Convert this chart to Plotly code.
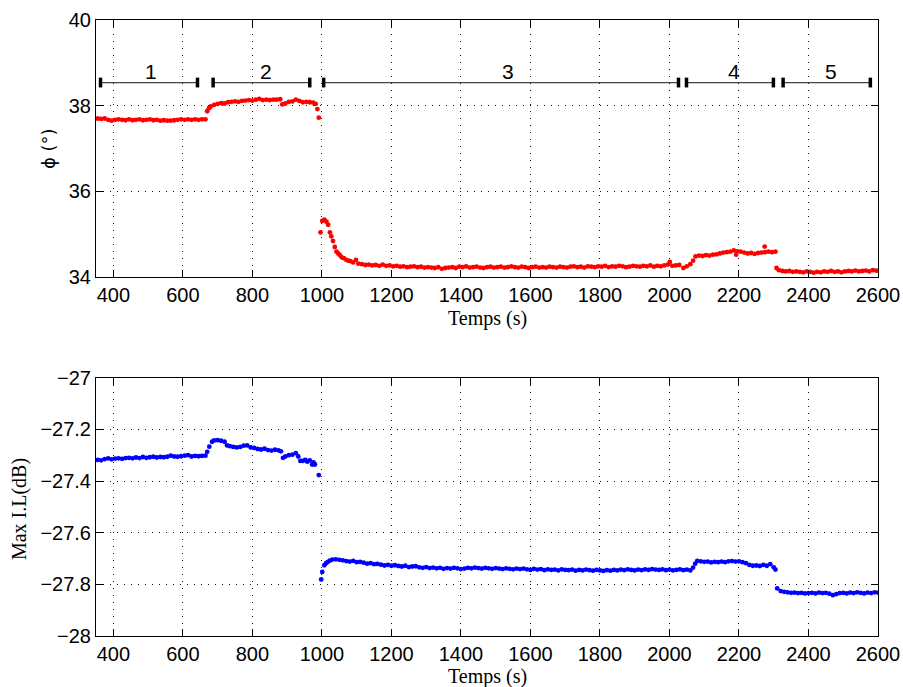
import plotly.graph_objects as go

# ---------------- data: phase (top panel) ----------------
PHI_T_1 = list(range(355, 666, 10))
PHI_1 = [37.70, 37.69, 37.70, 37.67, 37.65, 37.67, 37.68, 37.67, 37.66, 37.68,
         37.66, 37.67, 37.68, 37.66, 37.67, 37.68, 37.66, 37.67, 37.65, 37.66,
         37.65, 37.65, 37.66, 37.67, 37.68, 37.67, 37.68, 37.67, 37.68, 37.67,
         37.68, 37.68]

PHI_T_2 = [670, 675, 680, 690, 700, 710, 720, 730, 740, 750, 760, 770, 780, 790,
           800, 810, 820, 830, 840, 850, 860, 870, 880, 886, 895, 905, 915, 925,
           935, 945, 955, 965, 975, 982, 987, 991]
PHI_2 = [37.87, 37.94, 37.98, 38.02, 38.04, 38.06, 38.05, 38.08, 38.09, 38.10,
         38.09, 38.11, 38.12, 38.13, 38.12, 38.14, 38.16, 38.13, 38.14, 38.13,
         38.14, 38.14, 38.15, 38.03, 38.05, 38.09, 38.10, 38.14, 38.11, 38.08,
         38.09, 38.08, 38.07, 38.04, 37.92, 37.72]

PHI_T_3 = ([996, 1001, 1007, 1013, 1018, 1023, 1027, 1032, 1037, 1042, 1047, 1052,
            1057, 1063, 1070, 1076, 1082, 1090, 1098]
           + list(range(1105, 2000, 10))
           + [2001, 2008, 2018, 2028, 2040, 2050, 2060, 2068])
PHI_3 = [35.04, 35.31, 35.34, 35.29, 35.22, 35.04, 34.95, 34.84, 34.70, 34.59,
         34.55, 34.51, 34.46, 34.44, 34.40, 34.38, 34.37, 34.34, 34.40,
         34.31, 34.30, 34.28, 34.29, 34.27, 34.28, 34.26, 34.29, 34.26, 34.27,
         34.25, 34.26, 34.24, 34.25, 34.23, 34.24, 34.25, 34.23, 34.24, 34.22,
         34.23, 34.22, 34.21, 34.23, 34.19, 34.21, 34.22, 34.23, 34.21, 34.24,
         34.23, 34.25, 34.22, 34.23, 34.24, 34.22, 34.21, 34.23, 34.24, 34.22,
         34.23, 34.24, 34.22, 34.23, 34.25, 34.23, 34.22, 34.24, 34.23, 34.21,
         34.23, 34.24, 34.22, 34.23, 34.22, 34.24, 34.23, 34.22, 34.24, 34.23,
         34.22, 34.24, 34.25, 34.23, 34.24, 34.22, 34.25, 34.24, 34.23, 34.25,
         34.24, 34.26, 34.23, 34.25, 34.24, 34.26, 34.25, 34.23, 34.24, 34.26,
         34.25, 34.24, 34.26, 34.25, 34.27, 34.24, 34.26, 34.25, 34.27, 34.29,
         34.35, 34.26, 34.27, 34.28, 34.21, 34.25, 34.30, 34.38]

PHI_T_4 = [2075, 2085, 2095, 2105, 2115, 2125, 2135, 2145, 2155, 2165, 2175, 2185,
           2192, 2195, 2205, 2215, 2225, 2235, 2245, 2255, 2265, 2274, 2275, 2285,
           2295, 2305]
PHI_4 = [34.48, 34.50, 34.49, 34.51, 34.50, 34.52, 34.53, 34.55, 34.57, 34.58,
         34.59, 34.62, 34.52, 34.60, 34.59, 34.57, 34.55, 34.56, 34.54, 34.56,
         34.57, 34.71, 34.58, 34.59, 34.58, 34.59]

PHI_T_5 = [2308] + list(range(2315, 2601, 10))
PHI_5 = [34.21,
         34.16, 34.14, 34.13, 34.14, 34.12, 34.13, 34.12, 34.11, 34.13, 34.12,
         34.10, 34.12, 34.11, 34.13, 34.12, 34.14, 34.12, 34.13, 34.11, 34.13,
         34.14, 34.13, 34.15, 34.13, 34.14, 34.15, 34.13, 34.16, 34.15]

# ---------------- data: Max I.L (bottom panel) ----------------
IL_T_1 = list(range(355, 666, 10))
IL_1 = [-27.318, -27.320, -27.315, -27.312, -27.316, -27.313, -27.312, -27.314, -27.311, -27.310,
        -27.312, -27.309, -27.311, -27.307, -27.310, -27.308, -27.306, -27.309, -27.307, -27.308,
        -27.306, -27.302, -27.305, -27.306, -27.304, -27.302, -27.300, -27.305, -27.303, -27.304,
        -27.303, -27.302]

IL_T_2 = [670, 676, 684, 690, 700, 710, 720, 727, 735, 745, 755, 765, 775, 785, 795,
          805, 815, 825, 835, 845, 855, 865, 875, 882, 888, 895, 905, 915, 925, 932,
          938, 945, 952, 958, 965, 972, 976, 980, 991]
IL_2 = [-27.287, -27.267, -27.248, -27.243, -27.242, -27.244, -27.248,
        -27.262, -27.265, -27.268, -27.270, -27.268, -27.263, -27.262, -27.270,
        -27.272, -27.276, -27.278, -27.275, -27.280, -27.282, -27.279, -27.281,
        -27.285, -27.310, -27.305, -27.300, -27.298, -27.292, -27.305, -27.322,
        -27.322, -27.318, -27.325, -27.320, -27.336, -27.328, -27.336, -27.377]

IL_T_3 = ([998, 1001, 1007, 1012, 1017, 1023, 1030, 1040, 1050, 1060]
          + list(range(1070, 2061, 10)) + [2068, 2074])
IL_3 = [-27.781, -27.752, -27.726, -27.718, -27.713, -27.708, -27.704, -27.703, -27.705, -27.707,
        -27.710, -27.712, -27.709, -27.714, -27.713, -27.716, -27.720, -27.718, -27.722, -27.721,
        -27.724, -27.727, -27.725, -27.728, -27.726, -27.729, -27.731, -27.728, -27.733, -27.731,
        -27.730, -27.734, -27.736, -27.733, -27.737, -27.735, -27.738, -27.736, -27.740, -27.737,
        -27.739, -27.736, -27.738, -27.741, -27.739, -27.736, -27.738, -27.735, -27.737, -27.739,
        -27.736, -27.738, -27.740, -27.737, -27.739, -27.741, -27.738, -27.740, -27.742, -27.739,
        -27.741, -27.739, -27.742, -27.744, -27.740, -27.743, -27.741, -27.745, -27.742, -27.744,
        -27.743, -27.746, -27.742, -27.744, -27.745, -27.743, -27.747, -27.744, -27.746, -27.743,
        -27.745, -27.747, -27.744, -27.746, -27.748, -27.745, -27.747, -27.744, -27.746, -27.743,
        -27.745, -27.742, -27.744, -27.746, -27.743, -27.745, -27.742, -27.744, -27.741, -27.743,
        -27.744, -27.742, -27.745, -27.743, -27.746, -27.744, -27.742, -27.745, -27.743, -27.746,
        -27.735, -27.720]

IL_T_4 = list(range(2080, 2301, 10)) + [2305]
IL_4 = [-27.709, -27.711, -27.713, -27.712, -27.715, -27.713, -27.714, -27.712, -27.714, -27.711,
        -27.710, -27.712, -27.711, -27.714, -27.718, -27.725, -27.728, -27.727, -27.729, -27.725,
        -27.728, -27.722, -27.734, -27.743]

IL_T_5 = [2310] + list(range(2320, 2601, 10))
IL_5 = [-27.816,
        -27.826, -27.829, -27.831, -27.833, -27.832, -27.834, -27.833, -27.835, -27.834, -27.833,
        -27.835, -27.832, -27.834, -27.833, -27.836, -27.842, -27.838, -27.834, -27.833, -27.835,
        -27.832, -27.834, -27.831, -27.833, -27.835, -27.832, -27.834, -27.831, -27.832]

# ---------------- data: phase interval markers ----------------
SEG_LABELS = ["1", "2", "3", "4", "5"]
SEG_START = [363, 687, 1005, 2049, 2327]
SEG_END = [642, 965, 2026, 2299, 2578]
SEG_LABEL_X = [507, 840, 1534, 2185, 2465]
SEG_Y = 38.54
SEG_LABEL_Y = 38.80

X_TICKS = list(range(400, 2601, 200))
PHI_TICKS = [34, 36, 38, 40]
IL_TICKS = [-28, -27.8, -27.6, -27.4, -27.2, -27]
IL_TICK_TEXT = ["\u221228", "\u221227.8", "\u221227.6", "\u221227.4", "\u221227.2", "\u221227"]

phi_t = PHI_T_1 + PHI_T_2 + PHI_T_3 + PHI_T_4 + PHI_T_5
phi_v = PHI_1 + PHI_2 + PHI_3 + PHI_4 + PHI_5
il_t = IL_T_1 + IL_T_2 + IL_T_3 + IL_T_4 + IL_T_5
il_v = IL_1 + IL_2 + IL_3 + IL_4 + IL_5

fig = go.Figure()

sans = "Liberation Sans, Arial, sans-serif"

# interval bars
for s, e, lx, lab in zip(SEG_START, SEG_END, SEG_LABEL_X, SEG_LABELS):
    fig.add_trace(go.Scatter(x=[s, e], y=[SEG_Y, SEG_Y], mode="lines",
                             line=dict(color="#444444", width=1.2),
                             xaxis="x", yaxis="y", showlegend=False, hoverinfo="skip"))
    fig.add_trace(go.Scatter(x=[s, e], y=[SEG_Y, SEG_Y], mode="markers",
                             marker=dict(symbol="line-ns", size=7,
                                         line=dict(color="black", width=3.5)),
                             xaxis="x", yaxis="y", showlegend=False, hoverinfo="skip"))
    fig.add_annotation(x=lx, y=SEG_LABEL_Y, xref="x", yref="y", text=lab,
                       showarrow=False, xanchor="center", yanchor="middle",
                       font=dict(family=sans, size=21, color="black"))

fig.add_trace(go.Scatter(x=phi_t, y=phi_v, mode="markers",
                         marker=dict(color="#ff0000", size=4.8),
                         xaxis="x", yaxis="y", showlegend=False))
fig.add_trace(go.Scatter(x=il_t, y=il_v, mode="markers",
                         marker=dict(color="#0000ff", size=4.8),
                         xaxis="x2", yaxis="y2", showlegend=False))

tickfont = dict(family=sans, size=20, color="black")
common = dict(showline=True, linecolor="black", linewidth=1, mirror="allticks",
              ticks="inside", ticklen=7, tickcolor="black", tickwidth=1,
              showgrid=True, gridcolor="#111111", griddash="1px,6px", gridwidth=1,
              zeroline=False, tickfont=tickfont, automargin=False)

fig.update_layout(
    width=903, height=687,
    margin=dict(l=96, r=25, t=20, b=51),
    paper_bgcolor="white", plot_bgcolor="white",
    xaxis=dict(domain=[0, 1], anchor="y", range=[350, 2600], tickvals=X_TICKS, **common),
    yaxis=dict(domain=[0.5828, 1], anchor="x", range=[34, 40], tickvals=PHI_TICKS, **common),
    xaxis2=dict(domain=[0, 1], anchor="y2", range=[350, 2600], tickvals=X_TICKS, **common),
    yaxis2=dict(domain=[0, 0.4193], anchor="x2", range=[-28, -27], tickvals=IL_TICKS,
                ticktext=IL_TICK_TEXT, **common),
)

# axis titles
serif = dict(family="Liberation Serif, Times New Roman, serif", size=20, color="black")
ann = dict(xref="paper", yref="paper", showarrow=False, xanchor="center", yanchor="middle")
fig.add_annotation(x=0.5, y=0.516, text="Temps (s)", font=serif, **ann)
fig.add_annotation(x=0.5, y=-0.066, text="Temps (s)", font=serif, **ann)
fig.add_annotation(x=-0.0614, y=0.792, text="\u03d5 (°)", textangle=-90,
                   font=dict(family="DejaVu Sans, Liberation Sans, sans-serif", size=18,
                             color="black"), **ann)
fig.add_annotation(x=-0.0985, y=0.206, text="Max I.L(dB)", textangle=-90, font=serif, **ann)

fig.write_html("out.html", config={"displayModeBar": False},
               post_script="document.body.style.margin='0';document.body.style.overflow='hidden';")
